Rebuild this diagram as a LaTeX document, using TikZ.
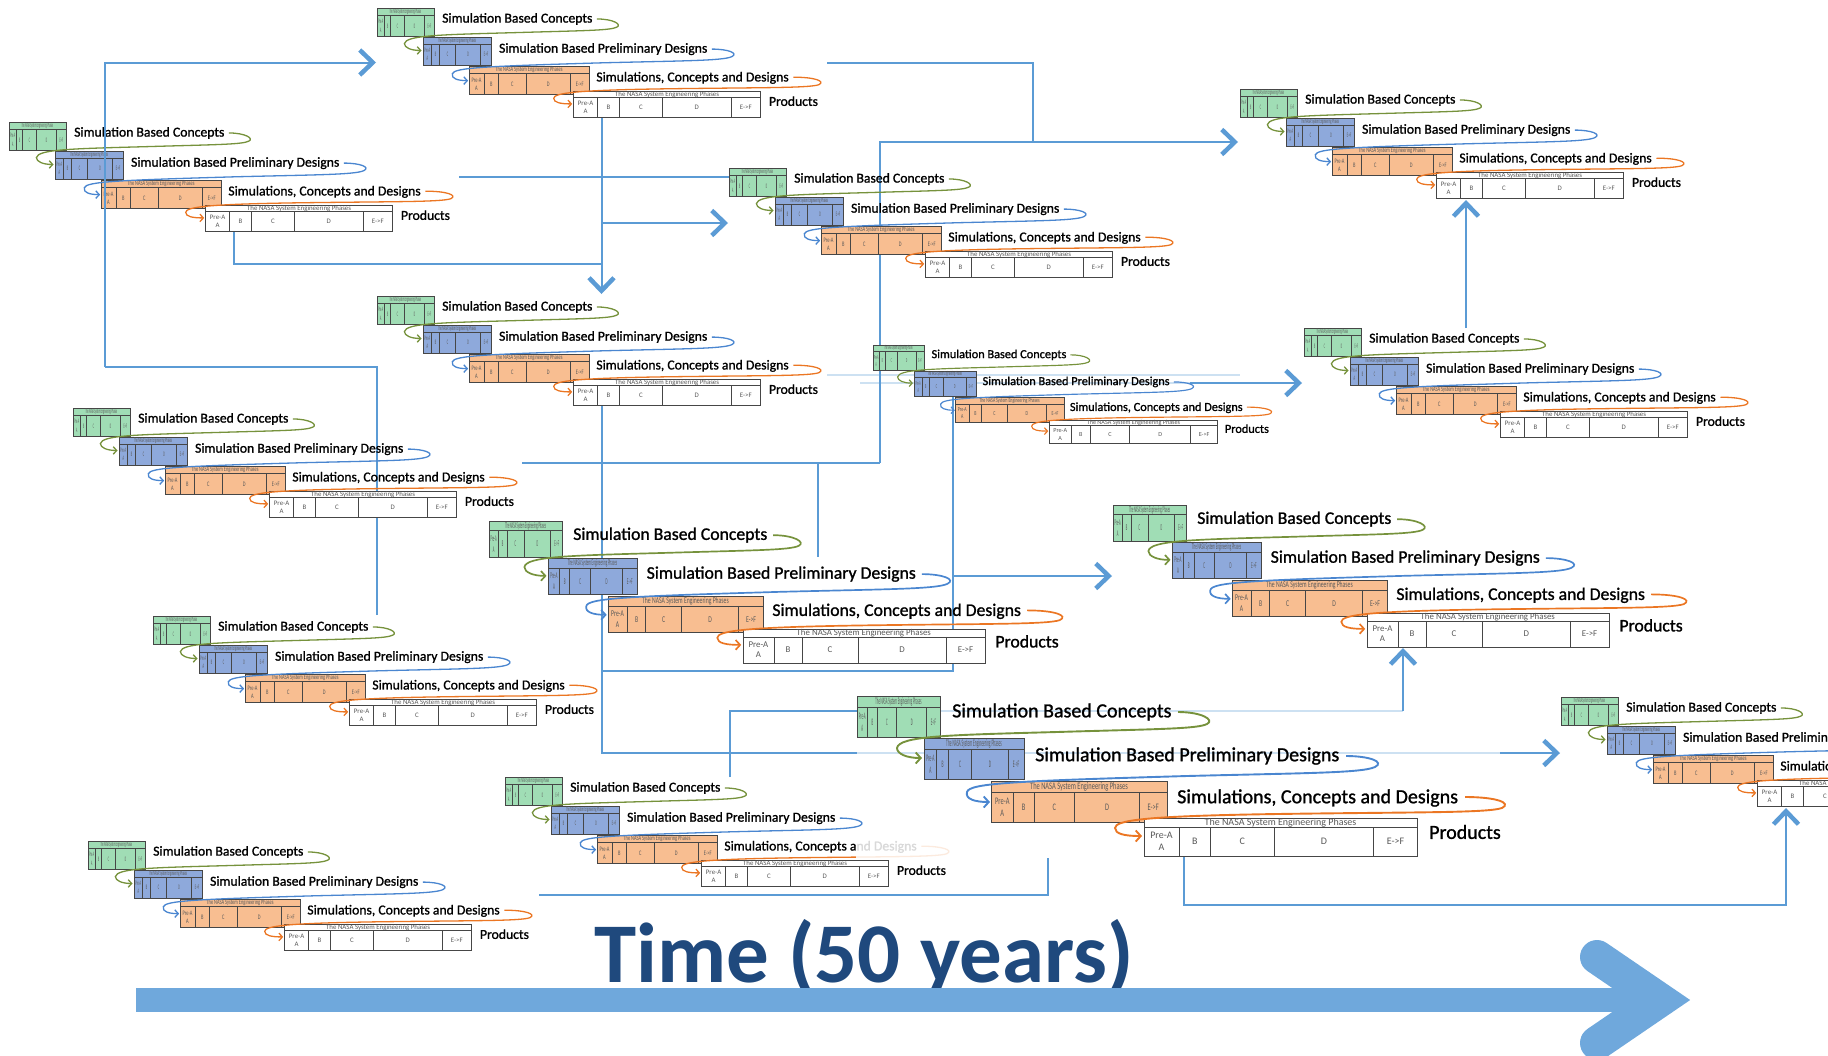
\documentclass[tikz,border=0pt]{standalone}
\usepackage{fontspec}
\setmainfont{Carlito}
\newfontfamily\lblfont[FakeBold=1.2]{Carlito}
\usetikzlibrary{arrows.meta}

\definecolor{sbcfill}{RGB}{160,221,181}
\definecolor{sbpfill}{RGB}{142,169,219}
\definecolor{scdfill}{RGB}{248,190,145}
\definecolor{tblline}{RGB}{70,70,70}
\definecolor{sbccurve}{RGB}{118,146,60}
\definecolor{sbpcurve}{RGB}{74,134,208}
\definecolor{scdcurve}{RGB}{235,118,35}
\definecolor{linkblue}{RGB}{91,155,213}
\definecolor{timeband}{RGB}{111,168,220}
\definecolor{timetext}{RGB}{31,73,125}

% one phases table: name, x, y, width, height, header height, fill
\newcommand{\phasetable}[7]{%
  \node[tbl,fill=#7,minimum width=#4,minimum height=#5,anchor=north west] (#1) at (#2,#3) {};
  \draw[tbl] (#2,#3+#6) -- ++(#4,0);
  \foreach \f in {0.128,0.244,0.476,0.842}
    \draw[tbl] (#2+\f*#4,#3+#6) -- ++(0,#5-#6);
  \node[hdr,xscale=#4/273] (#1h) at (#2+0.5*#4,#3+0.5*#6) {The NASA System Engineering Phases};
  \node[cell,xscale=#4/273] (#1c1) at (#2+0.064*#4,#3+0.5*#5+0.5*#6) {Pre-A\\A};
  \node[cell,xscale=#4/273] (#1c2) at (#2+0.186*#4,#3+0.5*#5+0.5*#6) {B};
  \node[cell,xscale=#4/273] (#1c3) at (#2+0.36*#4,#3+0.5*#5+0.5*#6) {C};
  \node[cell,xscale=#4/273] (#1c4) at (#2+0.659*#4,#3+0.5*#5+0.5*#6) {D};
  \node[cell,xscale=#4/273] (#1c5) at (#2+0.921*#4,#3+0.5*#5+0.5*#6) {E->F};
}

% one cascade of four tables: name, x, y, scale
\newcommand{\phaseunit}[4]{%
  \begin{scope}[shift={(#2,#3)},scale=#4,transform shape]
    \phasetable{#1g}{0}{0}{83}{41}{11}{sbcfill}
    \phasetable{#1b}{67}{42}{100}{41}{11}{sbpfill}
    \phasetable{#1o}{134}{85}{176}{41}{11}{scdfill}
    \phasetable{#1w}{287}{122}{273}{38}{9}{white}
    \node[lbl] (#1sbc) at (95,16) {Simulation Based Concepts};
    \node[lbl] (#1sbp) at (178,60) {Simulation Based Preliminary Designs};
    \node[lbl] (#1scd) at (320,102) {Simulations, Concepts and Designs};
    \node[lbl] (#1prd) at (572,136) {Products};
    \draw[loopline={sbccurve}{#4}] (321,16) .. controls (345,16) and (358,24) .. (350,28) .. controls (340,33) and (300,33) .. (200,36) .. controls (90,39) and (42,40) .. (40,52) .. controls (40,58) and (50,62) .. (65,62);
    \draw[loopline={sbpcurve}{#4}] (489,60) .. controls (513,60) and (528,66) .. (518,71) .. controls (505,77) and (450,77) .. (330,80) .. controls (160,85) and (112,87) .. (110,96) .. controls (108,103) and (118,106) .. (133,106);
    \draw[loopline={scdcurve}{#4}] (608,101) .. controls (640,101) and (655,107) .. (645,112) .. controls (630,117) and (560,116) .. (420,118) .. controls (290,120) and (258,124) .. (258,132) .. controls (258,138) and (268,140) .. (285,140);
  \end{scope}
}

\begin{document}
\begin{tikzpicture}[x=1pt,y=-1pt,
    lbl/.style={anchor=west,inner sep=0pt,font=\lblfont\fontsize{20}{24}\selectfont,text=black},
    tbl/.style={draw=tblline,line width=0.8pt,inner sep=0pt},
    hdr/.style={inner sep=0pt,font=\fontsize{10}{11}\selectfont,text=black!65},
    cell/.style={inner sep=0pt,align=center,font=\fontsize{10}{12}\selectfont,text=black!65},
    loopline/.style 2 args={draw=#1,line width=#2*1.9pt,-{Straight Barb[length=5pt,width=11pt,scale=#2]}},
    link/.style={draw=linkblue,line width=2pt},
    faintlink/.style={link,draw opacity=0.3},
    bigtip/.style={-{Straight Barb[length=13pt,width=25pt,line width=4.5pt]}},
    timelbl/.style={anchor=base west,inner sep=0pt,font=\fontsize{85}{90}\bfseries,text=timetext}]
  \useasboundingbox (0,0) rectangle (1828,1055);
  \clip (0,0) rectangle (1828,1055);

  % connector corners
  \coordinate (a1) at (601.5,118);  \coordinate (a2) at (601.5,294);
  \coordinate (b1) at (234,232);    \coordinate (b2) at (234,264);   \coordinate (b3) at (601.5,264);
  \coordinate (c1) at (601.5,223);  \coordinate (c2) at (728,223);
  \coordinate (d1) at (459,176.5);  \coordinate (d2) at (729,176.5);
  \coordinate (e1) at (827,62.5);   \coordinate (e2) at (1033,62.5);  \coordinate (e3) at (1033,142);
  \coordinate (f1) at (880,463);    \coordinate (f2) at (880,142);    \coordinate (f3) at (1238,142);
  \coordinate (g1) at (522,463);    \coordinate (g2) at (817.5,463);  \coordinate (g3) at (817.5,557);
  \coordinate (h1) at (601.5,406);  \coordinate (h2) at (601.5,753);  \coordinate (h3) at (857,753);
  \coordinate (h4) at (1500,753);   \coordinate (h5) at (1560,753);
  \coordinate (i1) at (601.5,671);  \coordinate (i2) at (953,671);    \coordinate (i3) at (953,383);
  \coordinate (i4) at (953,576);    \coordinate (i5) at (1112,576);
  \coordinate (j1) at (729.5,777);  \coordinate (j2) at (729.5,711);  \coordinate (j3) at (857,711);
  \coordinate (j4) at (1403,711);   \coordinate (j5) at (1403,648);
  \coordinate (k1) at (539,895);    \coordinate (k2) at (1048,895);   \coordinate (k3) at (1048,858);
  \coordinate (l1) at (1184,857);   \coordinate (l2) at (1184,905);   \coordinate (l3) at (1786,905);
  \coordinate (l4) at (1786,808);
  \coordinate (m1) at (1466,328);   \coordinate (m2) at (1466,200);
  \coordinate (n1) at (827,375);    \coordinate (n2) at (1240,375);
  \coordinate (n3) at (860,383);    \coordinate (n4) at (1190,383);   \coordinate (n5) at (1302,383);
  \coordinate (p1) at (377,615);    \coordinate (p2) at (377,367);    \coordinate (p3) at (104.5,367);
  \coordinate (p4) at (104.5,62.5); \coordinate (p5) at (376,62.5);

  \draw[link,bigtip] (a1) -- (a2);
  \draw[link] (b1) -- (b2) -- (b3);
  \draw[link,bigtip] (c1) -- (c2);
  \draw[link] (d1) -- (d2);
  \draw[link] (e1) -- (e2) -- (e3);
  \draw[link,bigtip] (f1) -- (f2) -- (f3);
  \draw[link] (g1) -- (f1);
  \draw[link] (g2) -- (g3);
  \draw[link] (h1) -- (h2) -- (h3);
  \draw[faintlink] (h3) -- (h4);
  \draw[link,bigtip] (h4) -- (h5);
  \draw[link] (i1) -- (i2) -- (i3);
  \draw[link,bigtip] (i4) -- (i5);
  \draw[link] (j1) -- (j2) -- (j3);
  \draw[faintlink] (j3) -- (j4);
  \draw[link,bigtip] (j4) -- (j5);
  \draw[link] (k1) -- (k2) -- (k3);
  \draw[link,bigtip] (l1) -- (l2) -- (l3) -- (l4);
  \draw[link,bigtip] (m1) -- (m2);
  \draw[faintlink] (n1) -- (n2);
  \draw[faintlink] (n3) -- (n4);
  \draw[link,bigtip] (n4) -- (n5);
  \draw[link,line join=miter] (p1) -- (p2) -- (p3);

  \phaseunit{A}{377}{8}{0.685}
  \phaseunit{B}{9}{122}{0.685}
  \phaseunit{C}{377}{296}{0.685}
  \phaseunit{D}{73}{408}{0.685}
  \phaseunit{E}{729}{168}{0.685}
  \phaseunit{F}{873}{345}{0.615}
  \phaseunit{G}{1240}{89}{0.685}
  \phaseunit{H}{1304}{328}{0.685}
  \phaseunit{I}{1113}{505}{0.885}
  \phaseunit{J}{489}{521}{0.885}
  \phaseunit{K}{153}{616}{0.685}
  \phaseunit{L}{505}{777}{0.685}
  \phaseunit{M}{88}{841}{0.685}
  \phaseunit{N}{857}{696}{1}
  \phaseunit{O}{1561}{697}{0.685}
  \fill[white,opacity=0.85] (856,836) rectangle (962,859);

  \draw[link,bigtip] (p3) -- (p4) -- (p5);

  % time axis
  \node[timelbl] (time) at (594,982) {Time (50 years)};
  \coordinate (t1) at (136,999.5);  \coordinate (t2) at (1640,999.5);
  \coordinate (t3) at (1597,957);   \coordinate (t4) at (1660,1000); \coordinate (t5) at (1597,1043);
  \draw[timeband,line width=24pt] (t1) -- (t2);
  \draw[timeband,line width=34pt,line cap=round,line join=miter] (t3) -- (t4) -- (t5);
\end{tikzpicture}
\end{document}
